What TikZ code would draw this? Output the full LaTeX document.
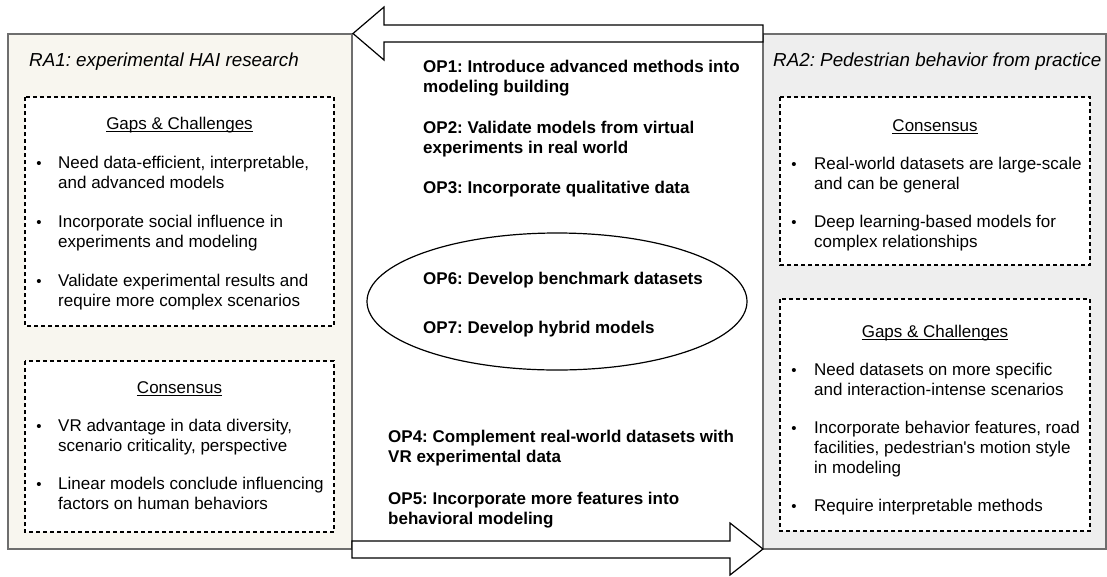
\documentclass[tikz,border=0pt]{standalone}
\usepackage{fontspec}
\setmainfont{Liberation Sans}
\definecolor{raone}{HTML}{F8F6EF}
\definecolor{ratwo}{HTML}{EEEEEE}
\definecolor{rabord}{HTML}{6E6E6E}
\begin{document}
\frenchspacing
\begin{tikzpicture}[x=1pt,y=-1pt,
  rabox/.style={draw=rabord, line width=1.2pt},
  dbox/.style={draw=black, line width=1.1pt, dash pattern=on 4pt off 3pt, fill=white},
  txt/.style={inner sep=0pt, anchor=base west, align=left, font=\fontsize{17}{20}\selectfont},
  ttl/.style={inner sep=0pt, anchor=base west, font=\fontsize{18.8}{22}\selectfont\itshape},
  hd/.style={inner sep=0pt, anchor=base, font=\fontsize{17}{20}\selectfont},
  bul/.style={inner sep=0pt, anchor=base, font=\fontsize{15}{20}\selectfont},
  op/.style={inner sep=0pt, anchor=base west, align=left, font=\fontsize{17}{20}\selectfont\bfseries},
  bigarrow/.style={draw=black, fill=white, line width=1.2pt, line join=miter},
  uline/.style={draw=black, line width=1pt}
]
\useasboundingbox (0,0) rectangle (1107,576);

% research areas
\draw[rabox, fill=raone] (8,34) rectangle (352,549);
\draw[rabox, fill=ratwo] (763,34) rectangle (1106,549);

% arrows
\draw[bigarrow] (353,33.5) -- (384,7) -- (384,25) -- (763,25) -- (763,42) -- (384,42) -- (384,60) -- cycle;
\draw[bigarrow] (763,549) -- (730,523) -- (730,541) -- (352,541) -- (352,558) -- (730,558) -- (730,575) -- cycle;

% titles
\node[ttl] (t1) at (29,66.5) {RA1: experimental HAI research};
\node[ttl] (t2) at (773,66.5) {RA2: Pedestrian behavior from practice};

% (multi-line nodes are anchored at the baseline of their last line)
% RA1 gaps
\draw[dbox] (25,97) rectangle (334,326);
\node[hd] (g1h) at (179.5,129) {Gaps \& Challenges};
\draw[uline] ([yshift=-2.5pt]g1h.base west) -- ([yshift=-2.5pt]g1h.base east);
\node[bul] (g1b1) at (39,168) {\textbullet};
\node[txt] (g1i1) at (58,188) {Need data-efficient, interpretable,\\and advanced models};
\node[bul] (g1b2) at (39,227) {\textbullet};
\node[txt] (g1i2) at (58,247) {Incorporate social influence in\\experiments and modeling};
\node[bul] (g1b3) at (39,286) {\textbullet};
\node[txt] (g1i3) at (58,306) {Validate experimental results and\\require more complex scenarios};

% RA1 consensus
\draw[dbox] (25,361) rectangle (334,532);
\node[hd] (c1h) at (179.5,393) {Consensus};
\draw[uline] ([yshift=-2.5pt]c1h.base west) -- ([yshift=-2.5pt]c1h.base east);
\node[bul] (c1b1) at (39,431) {\textbullet};
\node[txt] (c1i1) at (58,451) {VR advantage in data diversity,\\scenario criticality, perspective};
\node[bul] (c1b2) at (39,489) {\textbullet};
\node[txt] (c1i2) at (58,509) {Linear models conclude influencing\\factors on human behaviors};

% RA2 consensus
\draw[dbox] (780,97) rectangle (1090,265);
\node[hd] (c2h) at (935,131) {Consensus};
\draw[uline] ([yshift=-2.5pt]c2h.base west) -- ([yshift=-2.5pt]c2h.base east);
\node[bul] (c2b1) at (794,169) {\textbullet};
\node[txt] (c2i1) at (814,189) {Real-world datasets are large-scale\\and can be general};
\node[bul] (c2b2) at (794,227) {\textbullet};
\node[txt] (c2i2) at (814,247) {Deep learning-based models for\\complex relationships};

% RA2 gaps
\draw[dbox] (780,299) rectangle (1090,531);
\node[hd] (g2h) at (935,337) {Gaps \& Challenges};
\draw[uline] ([yshift=-2.5pt]g2h.base west) -- ([yshift=-2.5pt]g2h.base east);
\node[bul] (g2b1) at (794,375) {\textbullet};
\node[txt] (g2i1) at (814,395) {Need datasets on more specific\\and interaction-intense scenarios};
\node[bul] (g2b2) at (794,433) {\textbullet};
\node[txt] (g2i2) at (814,473) {Incorporate behavior features, road\\facilities, pedestrian\textquotesingle s motion style\\in modeling};
\node[bul] (g2b3) at (794,511) {\textbullet};
\node[txt] (g2i3) at (814,511) {Require interpretable methods};

% opportunities
\node[op] (op1) at (423,92) {OP1: Introduce advanced methods into\\modeling building};
\node[op] (op2) at (423,153) {OP2: Validate models from virtual\\experiments in real world};
\node[op] (op3) at (423,193) {OP3: Incorporate qualitative data};
\draw[black, line width=1.2pt] (557,301.5) ellipse [x radius=190, y radius=68.5];
\node[op] (op6) at (423,284) {OP6: Develop benchmark datasets};
\node[op] (op7) at (423,333) {OP7: Develop hybrid models};
\node[op] (op4) at (388,462) {OP4: Complement real-world datasets with\\VR experimental data};
\node[op] (op5) at (388,524) {OP5: Incorporate more features into\\behavioral modeling};
\end{tikzpicture}
\end{document}
